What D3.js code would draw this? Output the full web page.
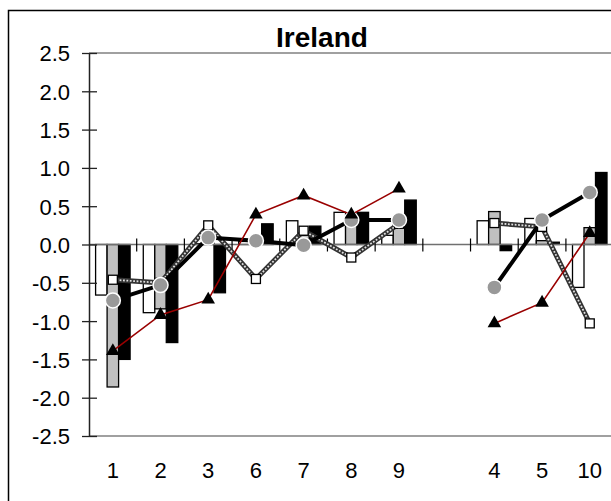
<!DOCTYPE html>
<html><head><meta charset="utf-8">
<script src="https://cdn.jsdelivr.net/npm/d3@7"></script>
<style>
html,body{margin:0;padding:0;background:#fff;}
svg{display:block;font-family:"Liberation Sans",Arial,sans-serif;}
</style></head>
<body>
<svg id="chart" width="611" height="501"></svg>
<script>
// ---- data ----
const title = "Ireland";
const categories = ["1","2","3","6","7","8","9","gap","4","5","10"];
const categoryLabels = ["1","2","3","6","7","8","9","","4","5","10"];
const whiteBars = [-0.66, -0.89, 0.01, 0.04, 0.31, 0.42, 0.12, null, 0.31, 0.34, -0.56];
const grayBars  = [-1.86, -0.84, 0.12, 0.04, 0.12, 0.30, 0.28, null, 0.43, 0.05, 0.22];
const blackBars = [-1.50, -1.28, -0.63, 0.27, 0.24, 0.42, 0.58, null, -0.08, 0.03, 0.94];
const squareLine   = [-0.46, -0.50, 0.25, -0.45, 0.18, -0.17, 0.27, null, 0.28, 0.23, -1.03];
const circleLine   = [-0.73, -0.53, 0.09, 0.05, -0.01, 0.32, 0.32, null, -0.56, 0.32, 0.68];
const triangleLine = [-1.39, -0.92, -0.72, 0.39, 0.64, 0.39, 0.73, null, -1.03, -0.76, 0.15];
const yTicks = [-2.5, -2.0, -1.5, -1.0, -0.5, 0.0, 0.5, 1.0, 1.5, 2.0, 2.5];

// ---- layout ----
const svg = d3.select("#chart");
const L = 89, R = 613.6, T = 53, B = 436;
const x = d3.scaleBand().domain(categories).range([L, R]).paddingInner(0).paddingOuter(0);
const y = d3.scaleLinear().domain([-2.5, 2.5]).range([B, T]);
const sub = d3.scaleBand().domain(["w","g","b"]).range([-17.25, 17.25]);
const cx = c => x(c) + x.bandwidth() / 2;
const FONT = "Liberation Sans, Arial, sans-serif";

// outer frame
svg.append("rect").attr("x", 8.5).attr("y", 10.5).attr("width", 700).attr("height", 600)
  .attr("fill", "none").attr("stroke", "#000").attr("stroke-width", 1.5);

// plot frame top/bottom (gray)
svg.append("line").attr("x1", L).attr("x2", 700).attr("y1", T).attr("y2", T)
  .attr("stroke", "#808080").attr("stroke-width", 1.5);
svg.append("line").attr("x1", L).attr("x2", 700).attr("y1", B).attr("y2", B)
  .attr("stroke", "#808080").attr("stroke-width", 1.5);

// title
svg.append("text").attr("x", 322).attr("y", 47).attr("text-anchor", "middle")
  .attr("font-family", FONT).attr("font-weight", "bold").attr("font-size", 28).text(title);

// bars
const barSeries = [
  {key: "w", vals: whiteBars, fill: "#ffffff"},
  {key: "g", vals: grayBars, fill: "#c0c0c0"},
  {key: "b", vals: blackBars, fill: "#000000"}
];
barSeries.forEach(s => {
  svg.append("g").selectAll("rect")
    .data(categories.map((c, i) => ({c, v: s.vals[i]})).filter(d => d.v != null))
    .join("rect")
    .attr("x", d => cx(d.c) + sub(s.key))
    .attr("width", sub.bandwidth())
    .attr("y", d => Math.min(y(d.v), y(0)))
    .attr("height", d => Math.abs(y(d.v) - y(0)))
    .attr("fill", s.fill).attr("stroke", "#000").attr("stroke-width", 1.3);
});

// x axis (zero line) + ticks
svg.append("line").attr("x1", L).attr("x2", 700).attr("y1", y(0)).attr("y2", y(0))
  .attr("stroke", "#707070").attr("stroke-width", 1.5);
const xAxis = d3.axisBottom(x).tickSize(0).tickFormat((d, i) => categoryLabels[i]);
const gx = svg.append("g").attr("transform", `translate(0,${B})`).call(xAxis);
gx.select(".domain").remove();
gx.selectAll("text").attr("font-size", 22).attr("fill", "#000").attr("dy", 0).attr("y", 42)
  .attr("font-family", FONT);
// boundary tick marks on zero line
svg.append("g").selectAll("line")
  .data(categories)
  .join("line")
  .attr("x1", d => x(d) + x.bandwidth())
  .attr("x2", d => x(d) + x.bandwidth())
  .attr("y1", y(0) - 6).attr("y2", y(0) + 7)
  .attr("stroke", "#000").attr("stroke-width", 1.2);

// y axis
const yAxis = d3.axisLeft(y).tickValues(yTicks).tickSize(0).tickFormat(d => d.toFixed(1));
const gy = svg.append("g").attr("transform", `translate(${L},0)`).call(yAxis);
gy.select(".domain").attr("stroke", "#222").attr("stroke-width", 1.5);
gy.selectAll("text").attr("font-size", 22).attr("fill", "#000").attr("x", -19).attr("dy", "0.36em")
  .attr("font-family", FONT);
gy.selectAll(".tick").append("line").attr("x1", -7).attr("x2", 8)
  .attr("stroke", "#222").attr("stroke-width", 1.3);

// lines
const pts = vals => categories.map((c, i) => ({c, v: vals[i]}));
const line = d3.line().defined(d => d.v != null).x(d => cx(d.c)).y(d => y(d.v));

// checkered square line
svg.append("path").datum(pts(squareLine)).attr("d", line)
  .attr("fill", "none").attr("stroke", "#333").attr("stroke-width", 5);
svg.append("path").datum(pts(squareLine)).attr("d", line)
  .attr("fill", "none").attr("stroke", "#e0e0e0").attr("stroke-width", 1.8).attr("stroke-dasharray", "1.8 1.6");
// circle line (thick black)
svg.append("path").datum(pts(circleLine)).attr("d", line)
  .attr("fill", "none").attr("stroke", "#000").attr("stroke-width", 4);
// triangle line (dark red)
svg.append("path").datum(pts(triangleLine)).attr("d", line)
  .attr("fill", "none").attr("stroke", "#990000").attr("stroke-width", 1.6);

// markers
svg.append("g").selectAll("rect")
  .data(pts(squareLine).filter(d => d.v != null)).join("rect")
  .attr("x", d => cx(d.c) - 4.5).attr("y", d => y(d.v) - 4.5)
  .attr("width", 9).attr("height", 9)
  .attr("fill", "#fff").attr("stroke", "#000").attr("stroke-width", 1.3);
svg.append("g").selectAll("circle")
  .data(pts(circleLine).filter(d => d.v != null)).join("circle")
  .attr("cx", d => cx(d.c)).attr("cy", d => y(d.v)).attr("r", 7.5)
  .attr("fill", "#999999").attr("stroke", "#fff").attr("stroke-width", 1.5);
const tri = d3.symbol().type(d3.symbolTriangle).size(80);
svg.append("g").selectAll("path")
  .data(pts(triangleLine).filter(d => d.v != null)).join("path")
  .attr("d", tri)
  .attr("transform", d => `translate(${cx(d.c)},${y(d.v)})`)
  .attr("fill", "#000");
</script>
</body></html>
